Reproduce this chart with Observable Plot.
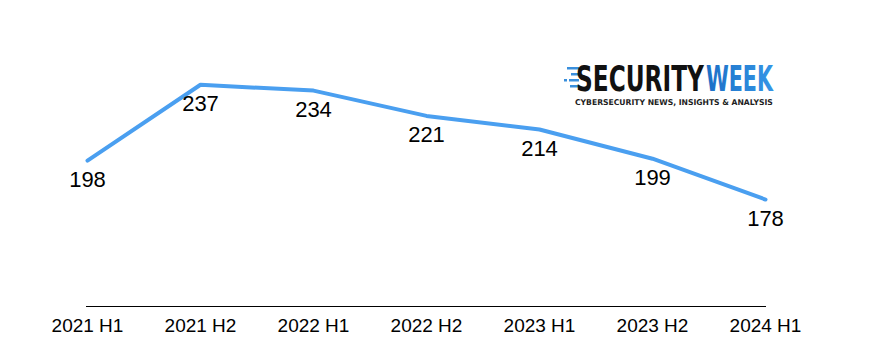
<!DOCTYPE html>
<html>
<head>
<meta charset="utf-8">
<script src="https://cdn.jsdelivr.net/npm/d3@7"></script>
<script src="https://cdn.jsdelivr.net/npm/@observablehq/plot@0.6"></script>
<style>
  html, body { margin: 0; padding: 0; background: #fff; }
  #wrap { position: relative; width: 877px; height: 359px; }
  #logo { position: absolute; left: 0; top: 0; }
</style>
</head>
<body>
<div id="wrap">
  <div id="chart"></div>
  <svg id="logo" width="877" height="359" xmlns="http://www.w3.org/2000/svg">
    <defs>
      <linearGradient id="wk" x1="0" x2="1" y1="0" y2="0">
        <stop offset="0" stop-color="#1c6fc6"/>
        <stop offset="1" stop-color="#3596e6"/>
      </linearGradient>
    </defs>
    <g fill="#3a8fdc">
      <rect x="567" y="67" width="12" height="2.5"/>
      <rect x="571" y="73" width="8" height="2.5"/>
      <rect x="564" y="79" width="3" height="2.5"/>
      <rect x="569" y="79" width="10" height="2.5"/>
      <rect x="570" y="85" width="9" height="2.5"/>
    </g>
    <text id="lg1" data-x="576" data-y="91" data-w="128" font-family="DejaVu Sans" font-weight="bold" font-size="36" fill="#111">SECURITY</text>
    <text id="lg2" data-x="706" data-y="91" data-w="67" font-family="DejaVu Sans" font-weight="bold" font-size="36" fill="url(#wk)">WEEK</text>
    <text id="lg3" data-x="575" data-y="105" data-w="198" font-family="DejaVu Sans" font-weight="bold" font-size="8" fill="#222">CYBERSECURITY NEWS, INSIGHTS &amp; ANALYSIS</text>
  </svg>
</div>
<script>
const periods = ["2021 H1", "2021 H2", "2022 H1", "2022 H2", "2023 H1", "2023 H2", "2024 H1"];
const values = [198, 237, 234, 221, 214, 199, 178];

const data = periods.map((p, i) => ({period: p, value: values[i]}));

const chart = Plot.plot({
  width: 877,
  height: 359,
  marginLeft: 86,
  marginRight: 111,
  marginTop: 59,
  marginBottom: 53,
  style: {fontFamily: "'Liberation Sans', Arial, sans-serif", background: "#fff"},
  x: {type: "point", domain: periods, padding: 0, label: null},
  y: {domain: [123, 250], axis: null},
  marks: [
    Plot.ruleY([123], {stroke: "#000", strokeWidth: 1.2}),
    Plot.axisX({tickSize: 0, tickPadding: 12, fontSize: 19, fill: "#000", label: null}),
    Plot.line(data, {x: "period", y: "value", stroke: "#4a9ff0", strokeWidth: 4, strokeLinejoin: "round"}),
    Plot.text(data, {x: "period", y: "value", text: d => String(d.value), dy: 19, fontSize: 22, fill: "#000"})
  ]
});
document.getElementById("chart").appendChild(chart);

// fit logo texts horizontally by scaling (keeps real text)
for (const id of ["lg1", "lg2", "lg3"]) {
  const t = document.getElementById(id);
  const w = t.getComputedTextLength();
  const sx = (+t.dataset.w) / w;
  t.setAttribute("transform", `translate(${t.dataset.x},${t.dataset.y}) scale(${sx},1)`);
}
</script>
</body>
</html>
